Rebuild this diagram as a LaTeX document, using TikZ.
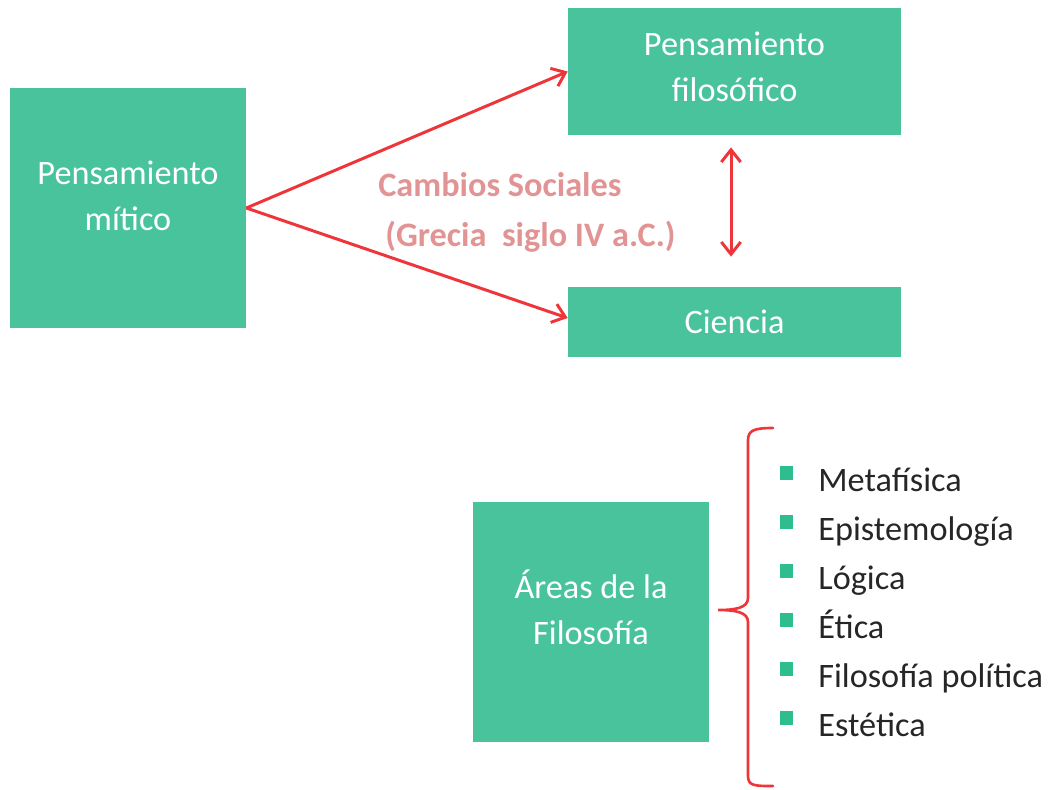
\documentclass[tikz,border=0pt]{standalone}
\usepackage{fontspec}
\setmainfont{Carlito}
\usetikzlibrary{arrows.meta}
\definecolor{boxgreen}{RGB}{73,195,156}
\definecolor{bulletgreen}{RGB}{45,189,142}
\definecolor{linered}{RGB}{238,54,58}
\definecolor{notepink}{RGB}{226,148,148}
\tikzset{
    box/.style={rectangle, fill=boxgreen, text=white, align=center,
        inner sep=0pt, font=\fontsize{19.5}{26}\selectfont},
    redarrow/.style={draw=linered, line width=1.7pt,
        -{Straight Barb[length=7pt,width=11pt]}},
    bullet/.style={rectangle, fill=bulletgreen, minimum width=0.26cm,
        minimum height=0.28cm, inner sep=0pt},
    item/.style={anchor=base west, inner sep=0pt, text=black!85,
        font=\fontsize{19.5}{26}\selectfont}
}

\begin{document}
\begin{tikzpicture}[x=0.02cm, y=-0.02cm]
    \useasboundingbox (0,0) rectangle (1050,789);
    \node (mitico) [box, minimum width=4.72cm, minimum height=4.8cm,
        text depth=0.5cm] at (128,208) {Pensamiento\\mítico};
    \node (filosofico) [box, minimum width=6.66cm, minimum height=2.54cm,
        text depth=0.18cm] at (734.5,71.5) {Pensamiento\\filosófico};
    \node (ciencia) [box, minimum width=6.66cm, minimum height=1.4cm]
        at (734.5,322) {Ciencia};
    \node (areas) [box, minimum width=4.72cm, minimum height=4.8cm,
        text depth=0.6cm] at (591,622) {Áreas de la\\Filosofía};

    \draw [redarrow] (mitico.east) -- (filosofico.west);
    \draw [redarrow] (mitico.east) -- ([yshift=0.08cm]ciencia.west);
    \draw [redarrow, {Straight Barb[length=7pt,width=11pt]}-{Straight Barb[length=7pt,width=11pt]},
        shorten <=0.24cm, shorten >=0.6cm]
        ([xshift=-0.07cm]filosofico.south) -- ([xshift=-0.07cm]ciencia.north);

    \node (cambios) [anchor=base west, align=left, text=notepink,
        inner sep=0pt, font=\bfseries\fontsize{19.5}{28.3}\selectfont]
        at (378,246) {Cambios Sociales\\\hspace{0.14cm}(Grecia\ \ siglo IV a.C.)};

    % llave
    \draw [linered, line width=1.5pt, line cap=round]
        (773,428) .. controls (755,428) and (748,430) .. (748,440)
        -- (748,598) .. controls (748,608) and (735,610) .. (718,610)
        .. controls (735,610) and (748,612) .. (748,622)
        -- (748,776) .. controls (748,786) and (755,786) .. (773,786);

    \foreach \txt [count=\i] in {Metafísica, Epistemología, Lógica, Ética,
        Filosofía política, Estética} {
        \node (b\i) [bullet] at (786,424+\i*49) {};
        \node (t\i) [item] at (818,442+\i*49) {\txt};
    }
\end{tikzpicture}
\end{document}
